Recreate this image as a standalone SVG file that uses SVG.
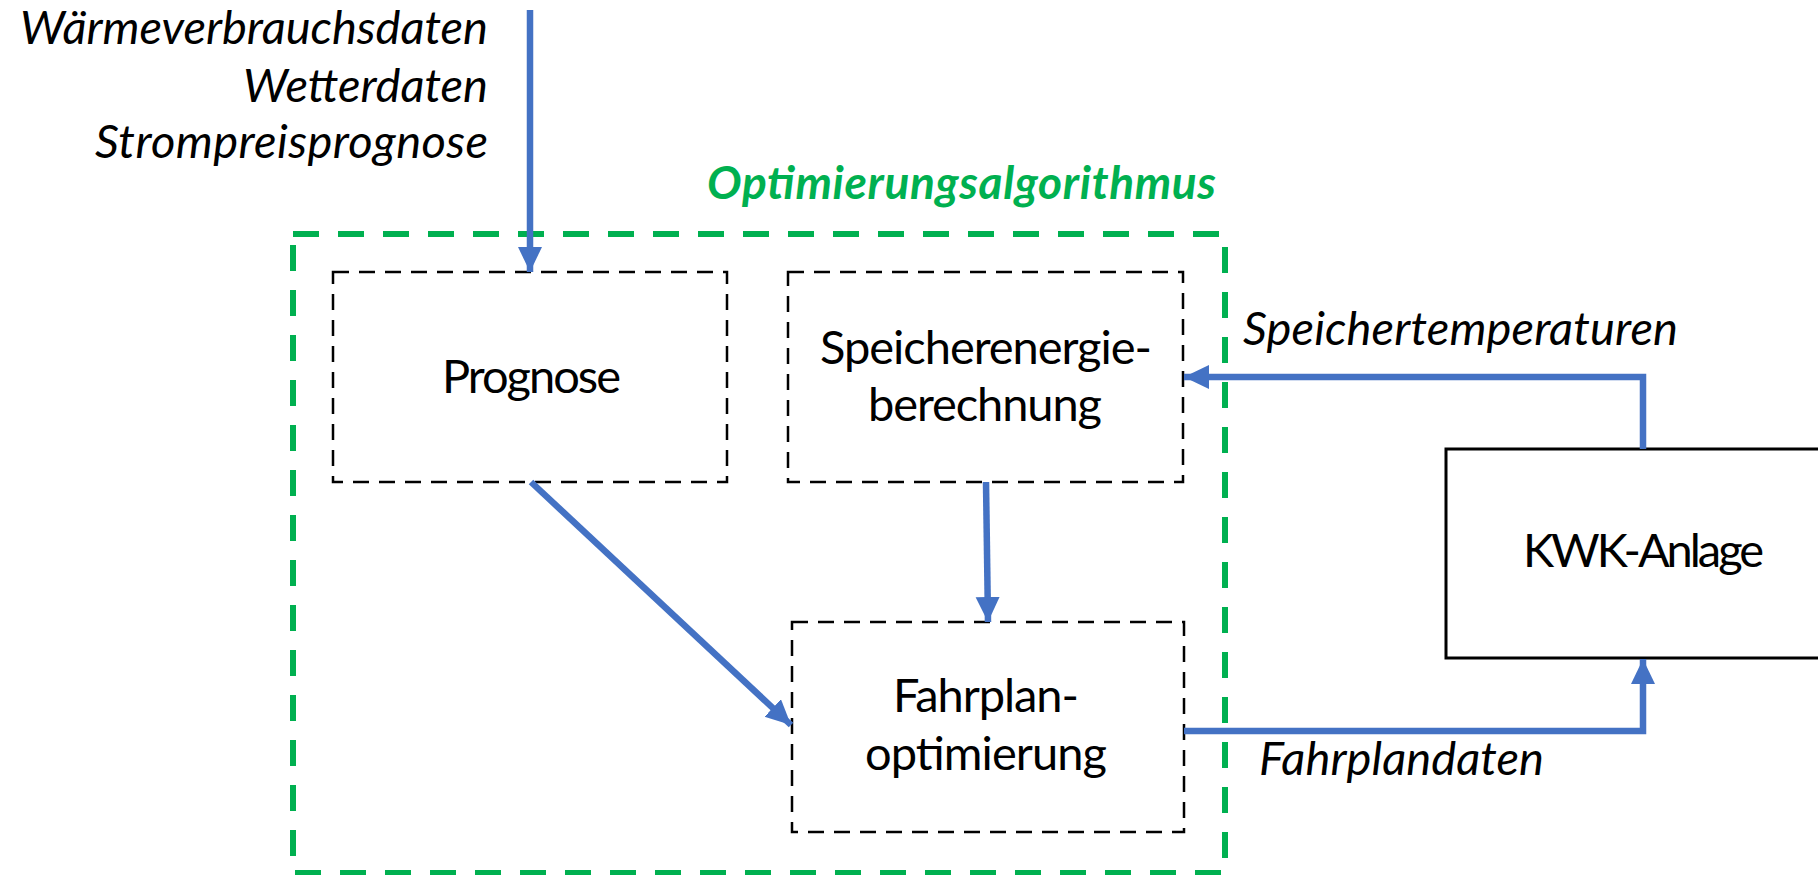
<svg xmlns="http://www.w3.org/2000/svg" width="1818" height="875" viewBox="0 0 1818 875">
<defs>
<marker id="ah" markerUnits="userSpaceOnUse" markerWidth="30" markerHeight="30" refX="25" refY="12" orient="auto">
<path d="M0,0 L25,12 L0,24 Z" fill="#4472C4"/>
</marker>
<style>
.t{font-family:Lato,"Open Sans","Liberation Sans",sans-serif;font-size:47px;fill:#000}
.i{font-style:italic}
.box{fill:none;stroke:#000;stroke-width:2.5;stroke-dasharray:16 10}
.c{fill:none;stroke:#4472C4;stroke-width:6.5;marker-end:url(#ah)}
</style>
</defs>
<rect width="1818" height="875" fill="#fff"/>
<g id="inputs">
<text class="t i" x="488" y="44" text-anchor="end" textLength="468">Wärmeverbrauchsdaten</text>
<text class="t i" x="488" y="102" text-anchor="end" textLength="245">Wetterdaten</text>
<text class="t i" x="488" y="158" text-anchor="end" textLength="393">Strompreisprognose</text>
</g>
<g id="optimierungsalgorithmus">
<rect x="293" y="234" width="932" height="639" fill="none" stroke="#00B050" stroke-width="6" stroke-dasharray="26 19"/>
<text x="707" y="199" textLength="509" style="font-family:Lato,'Open Sans','Liberation Sans',sans-serif;font-size:46px;font-weight:bold;font-style:italic;fill:#00B050">Optimierungsalgorithmus</text>
</g>
<g id="prognose">
<rect class="box" x="333" y="272" width="394" height="210"/>
<text class="t" x="442" y="393" textLength="179">Prognose</text>
</g>
<g id="speicherenergieberechnung">
<rect class="box" x="788" y="272" width="395" height="210"/>
<text class="t" x="820" y="364" textLength="332">Speicherenergie-</text>
<text class="t" x="868" y="421" textLength="234">berechnung</text>
</g>
<g id="fahrplanoptimierung">
<rect class="box" x="792" y="622" width="392" height="210"/>
<text class="t" x="893" y="712" textLength="186">Fahrplan-</text>
<text class="t" x="865" y="770" textLength="242">optimierung</text>
</g>
<g id="kwk-anlage">
<rect x="1446" y="449" width="400" height="209" fill="#fff" stroke="#000" stroke-width="3"/>
<text class="t" x="1523" y="567" textLength="241">KWK-Anlage</text>
</g>
<g id="connectors">
<path class="c" d="M530,10 L530,272"/>
<path class="c" d="M531,482 L791,725"/>
<path class="c" d="M986,482 L988,622"/>
<path class="c" d="M1643,449 L1643,377 L1184,377"/>
<path class="c" d="M1184,731 L1643,731 L1643,659"/>
</g>
<g id="labels">
<text class="t i" x="1243" y="345" textLength="435">Speichertemperaturen</text>
<text class="t i" x="1259" y="775" textLength="285">Fahrplandaten</text>
</g>
</svg>
